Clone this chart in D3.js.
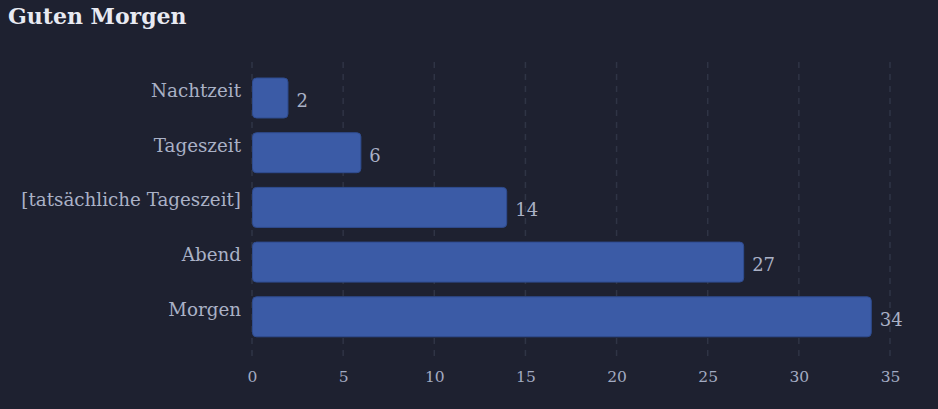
<!DOCTYPE html>
<html><head><meta charset="utf-8">
<script src="https://cdn.jsdelivr.net/npm/d3@7"></script>
<style>
html,body{margin:0;padding:0;background:#1e2130;}
svg{display:block;}
</style></head>
<body>
<svg id="chart" width="938" height="409"></svg>
<script>
const title = "Guten Morgen";
const categories = ["Nachtzeit", "Tageszeit", "[tatsächliche Tageszeit]", "Abend", "Morgen"];
const values = [2, 6, 14, 27, 34];
const xTicks = [0, 5, 10, 15, 20, 25, 30, 35];

const W = 938, H = 409;
const font = "'DejaVu Serif', 'Liberation Serif', serif";
const svg = d3.select("#chart");
svg.append("rect").attr("width", W).attr("height", H).attr("fill", "#1e2130");

const x = d3.scaleLinear().domain([0, 35]).range([252, 890]);
const y = d3.scaleBand().domain(categories).range([61.6, 353.2]).paddingInner(0.269).paddingOuter(0.3);

// grid
const grid = svg.append("g");
grid.selectAll("line").data(xTicks).join("line")
  .attr("x1", d => x(d)).attr("x2", d => x(d))
  .attr("y1", 62).attr("y2", 362)
  .attr("stroke", "#2f3445").attr("stroke-width", 1.5).attr("stroke-dasharray", "6,6");

// x axis labels
const xAxis = svg.append("g").attr("transform", "translate(0,362)")
  .call(d3.axisBottom(x).tickValues(xTicks).tickSize(0).tickPadding(9));
xAxis.select(".domain").remove();
xAxis.selectAll("text").attr("fill", "#a3abc2").attr("font-family", font).attr("font-size", 15.5);

// y axis labels
const yAxis = svg.append("g").attr("transform", "translate(241,0)")
  .call(d3.axisLeft(y).tickSize(0).tickPadding(0));
yAxis.select(".domain").remove();
yAxis.selectAll("text").attr("fill", "#aab1c6").attr("font-family", font).attr("font-size", 18.3).attr("dy", "-0.05em");

// bars
svg.append("g").selectAll("rect").data(values).join("rect")
  .attr("x", x(0) + 0.5)
  .attr("y", (d, i) => y(categories[i]))
  .attr("width", d => x(d) - x(0) - 1)
  .attr("height", y.bandwidth())
  .attr("rx", 4).attr("ry", 4)
  .attr("fill", "#3b5ba6").attr("stroke", "#2f4c8f").attr("stroke-width", 1);

// value labels
svg.append("g").selectAll("text").data(values).join("text")
  .attr("x", d => x(d) + 8)
  .attr("y", (d, i) => y(categories[i]) + y.bandwidth() / 2 + 9)
  .attr("fill", "#aab1c6").attr("font-family", font).attr("font-size", 18)
  .text(d => d);

svg.append("text").attr("x", 8).attr("y", 24)
  .attr("fill", "#e8eaf2").attr("font-family", font).attr("font-weight", "bold").attr("font-size", 22)
  .text(title);
</script>
</body></html>
